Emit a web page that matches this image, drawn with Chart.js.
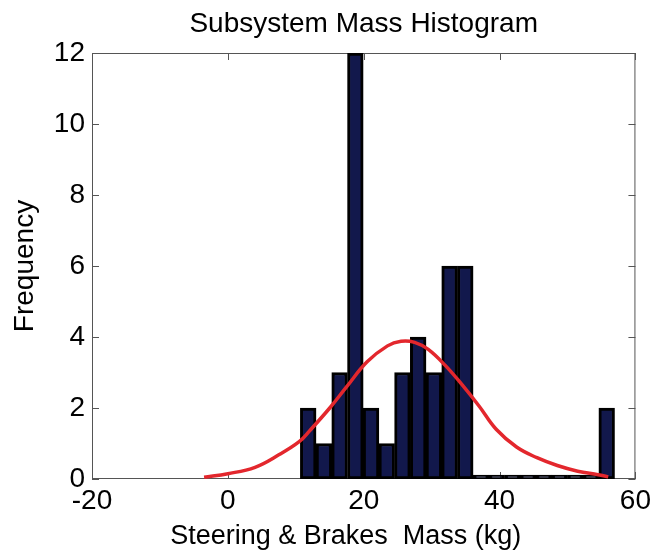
<!DOCTYPE html>
<html>
<head>
<meta charset="utf-8">
<title>Subsystem Mass Histogram</title>
<script src="https://cdn.jsdelivr.net/npm/chart.js@4.4.1/dist/chart.umd.min.js"></script>
<style>
  html, body { margin: 0; padding: 0; background: #fff; }
  canvas { display: block; }
</style>
</head>
<body>
<canvas id="hist" width="656" height="558"></canvas>
<script>
// bin centres (kg) and counts per bin
const binCenters = [11.83, 14.14, 16.45, 18.77, 21.08, 23.39, 25.70, 28.02, 30.33, 32.64,
                    34.95, 37.27, 39.58, 41.89, 44.20, 46.52, 48.83, 51.14, 53.45, 55.77];
const counts = [2, 1, 3, 12, 2, 1, 3, 4, 3, 6, 6, 0, 0, 0, 0, 0, 0, 0, 0, 2];

// fitted normal curve, sampled points
const fitX = [-3.5, 0, 4, 7.5, 10.5, 12, 15, 17.5, 20.5, 23.5, 25.5, 27.5, 29.5, 32,
              34.5, 37, 39.5, 42.5, 45.5, 48.5, 51.5, 54.5, 56];
const fitY = [0.05, 0.15, 0.33, 0.68, 1.05, 1.35, 2.0, 2.6, 3.3, 3.75, 3.88, 3.85, 3.65, 3.2,
              2.65, 2.05, 1.4, 0.9, 0.6, 0.38, 0.22, 0.12, 0.06];

const xTicks = [-20, 0, 20, 40, 60];
const yTicks = [0, 2, 4, 6, 8, 10, 12];

const titleText = 'Subsystem Mass Histogram';
const xTitleText = 'Steering & Brakes  Mass (kg)';

const FONT = "'Liberation Sans', Arial, sans-serif";

// matlab style frame: thin box with inward tick marks, plus the titles
const boxFrame = {
  id: 'boxFrame',
  beforeDatasetsDraw(chart) {
    const { ctx, chartArea: a, scales } = chart;
    const len = 7;
    ctx.save();
    ctx.strokeStyle = '#555';
    ctx.lineWidth = 1;
    ctx.strokeRect(a.left + 0.5, a.top + 0.5, a.right - a.left - 1, a.bottom - a.top - 1);
    ctx.beginPath();
    xTicks.forEach(v => {
      const px = Math.round(scales.x.getPixelForValue(v)) + 0.5;
      ctx.moveTo(px, a.bottom); ctx.lineTo(px, a.bottom - len);
      ctx.moveTo(px, a.top); ctx.lineTo(px, a.top + len);
    });
    yTicks.forEach(v => {
      const py = Math.round(scales.y.getPixelForValue(v)) + 0.5;
      ctx.moveTo(a.left, py); ctx.lineTo(a.left + len, py);
      ctx.moveTo(a.right, py); ctx.lineTo(a.right - len, py);
    });
    ctx.stroke();
    ctx.restore();
  },
  afterDraw(chart) {
    const { ctx, chartArea: a } = chart;
    ctx.save();
    ctx.fillStyle = '#000';
    ctx.textAlign = 'center';
    ctx.textBaseline = 'alphabetic';
    ctx.font = '28px ' + FONT;
    ctx.fillText(titleText, (a.left + a.right) / 2, 32);
    ctx.font = '27px ' + FONT;
    ctx.fillText(xTitleText, (a.left + a.right) / 2 - 18, 544);
    ctx.restore();
  }
};

new Chart(document.getElementById('hist'), {
  data: {
    datasets: [
      {
        type: 'line',
        data: fitX.map((x, i) => ({ x: x, y: fitY[i] })),
        borderColor: '#e3272d',
        borderWidth: 3.5,
        pointRadius: 0,
        tension: 0.4,
        order: 0
      },
      {
        type: 'bar',
        data: binCenters.map((x, i) => ({ x: x, y: counts[i] })),
        backgroundColor: '#12184c',
        borderColor: '#000',
        borderWidth: 3,
        borderSkipped: false,
        minBarLength: 4,
        barPercentage: 1,
        categoryPercentage: 1,
        order: 1
      }
    ]
  },
  options: {
    responsive: false,
    animation: false,
    layout: { padding: { left: 0, right: 17, top: 53, bottom: 0 } },
    scales: {
      x: {
        type: 'linear',
        min: -20,
        max: 60,
        offset: false,
        afterFit: s => { s.height = 79; },
        afterBuildTicks: s => { s.ticks = xTicks.map(v => ({ value: v })); },
        ticks: { color: '#000', font: { family: FONT, size: 28 }, padding: 5, maxRotation: 0 },
        grid: { display: false, drawTicks: false },
        border: { display: false }
      },
      y: {
        min: 0,
        max: 12,
        afterFit: s => { s.width = 92; },
        afterBuildTicks: s => { s.ticks = yTicks.map(v => ({ value: v })); },
        ticks: { color: '#000', font: { family: FONT, size: 28 }, padding: 7 },
        grid: { display: false, drawTicks: false },
        border: { display: false },
        title: {
          display: true,
          text: 'Frequency',
          color: '#000',
          font: { family: FONT, size: 28 },
          padding: { top: 8, bottom: 0 }
        }
      }
    },
    plugins: {
      legend: { display: false },
      tooltip: { enabled: false },
      title: { display: false }
    }
  },
  plugins: [boxFrame]
});
</script>
</body>
</html>
